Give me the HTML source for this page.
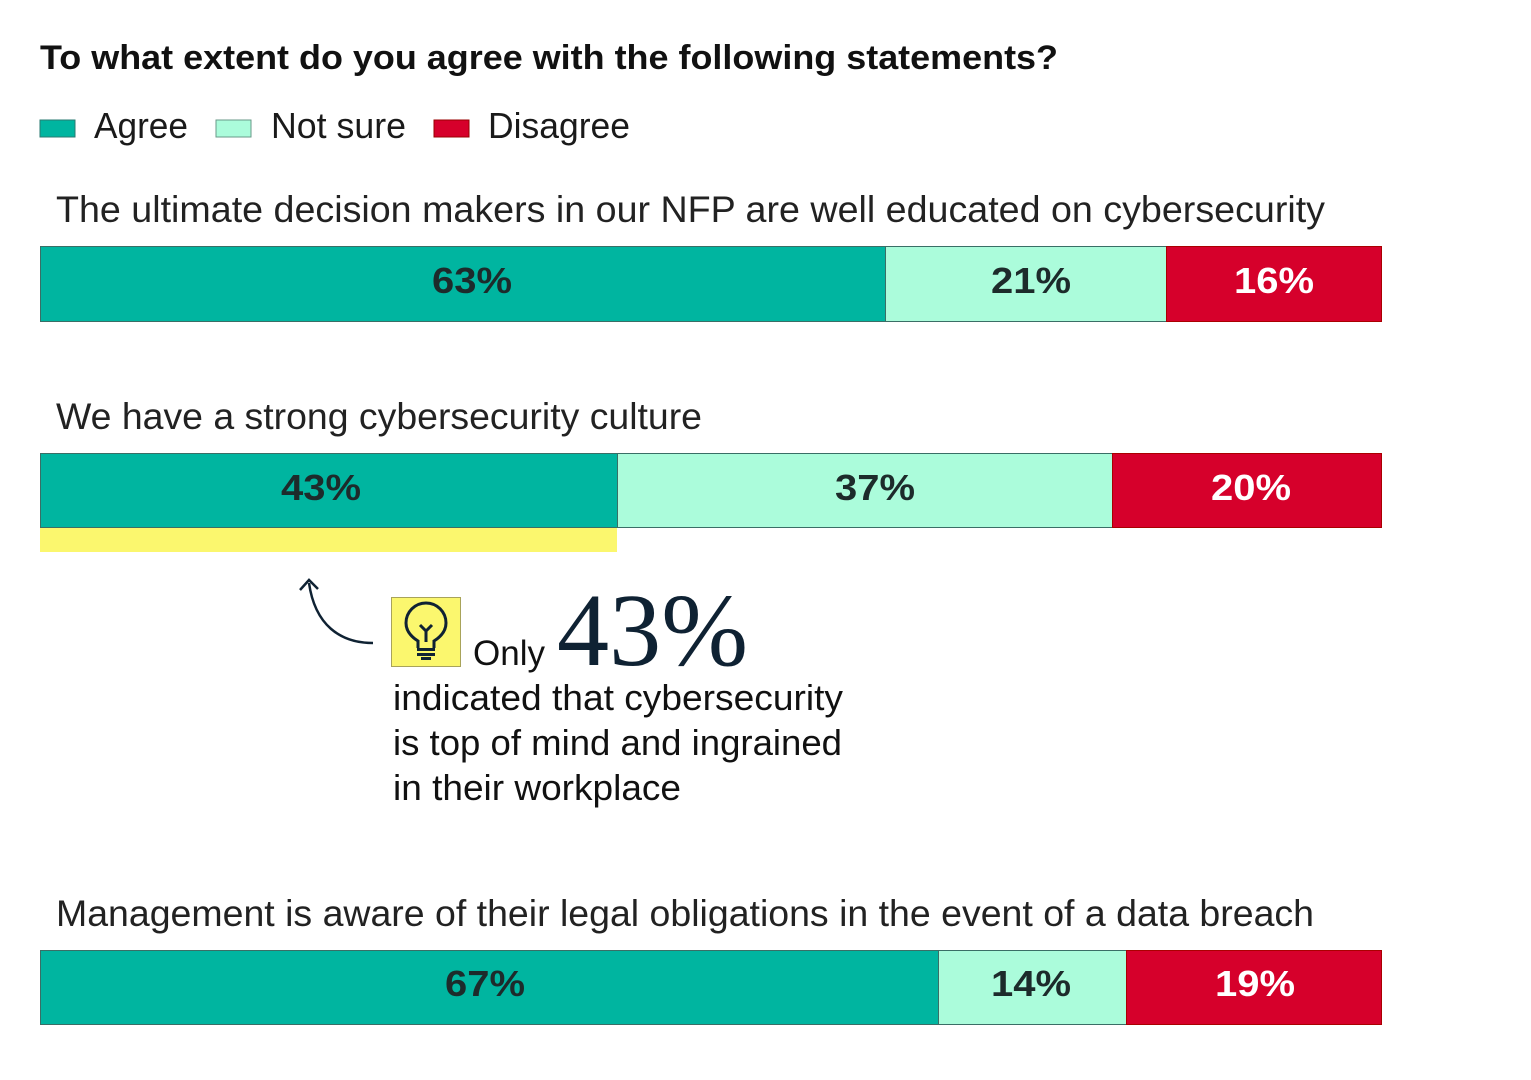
<!DOCTYPE html>
<html><head><meta charset="utf-8"><style>html,body{margin:0;padding:0;background:#fff;}svg{display:block}</style></head><body>
<svg width="1531" height="1080" viewBox="0 0 1531 1080" xmlns="http://www.w3.org/2000/svg" font-family="Liberation Sans, sans-serif">
<rect width="1531" height="1080" fill="#fff"/>
<text x="40" y="69" font-size="34" font-weight="bold" fill="#111" textLength="1018" lengthAdjust="spacingAndGlyphs">To what extent do you agree with the following statements?</text>
<rect x="40" y="120" width="35" height="17" fill="#00b5a0" stroke="#2a7a70"/>
<text x="94" y="138" font-size="36" fill="#1a1a1a" textLength="94" lengthAdjust="spacingAndGlyphs">Agree</text>
<rect x="216" y="120" width="35" height="17" fill="#abfcdb" stroke="#6a9a88"/>
<text x="271" y="138" font-size="36" fill="#1a1a1a" textLength="135" lengthAdjust="spacingAndGlyphs">Not sure</text>
<rect x="434" y="120" width="35" height="17" fill="#d6002b" stroke="#900"/>
<text x="488" y="138" font-size="36" fill="#1a1a1a" textLength="142" lengthAdjust="spacingAndGlyphs">Disagree</text>

<g font-size="37" fill="#222">
<text x="56" y="222" textLength="1269" lengthAdjust="spacingAndGlyphs">The ultimate decision makers in our NFP are well educated on cybersecurity</text>
<text x="56" y="429" textLength="646" lengthAdjust="spacingAndGlyphs">We have a strong cybersecurity culture</text>
<text x="56" y="926" textLength="1258" lengthAdjust="spacingAndGlyphs">Management is aware of their legal obligations in the event of a data breach</text>
</g>

<g stroke="#3a6e66" stroke-width="1">
<rect x="40.5" y="246.5" width="845" height="75" fill="#00b5a0"/>
<rect x="885.5" y="246.5" width="281" height="75" fill="#abfcdb"/>
<rect x="1166.5" y="246.5" width="215" height="75" fill="#d6002b" stroke="#a00"/>
<rect x="40.5" y="453.5" width="577" height="74" fill="#00b5a0"/>
<rect x="617.5" y="453.5" width="495" height="74" fill="#abfcdb"/>
<rect x="1112.5" y="453.5" width="269" height="74" fill="#d6002b" stroke="#a00"/>
<rect x="40.5" y="950.5" width="898" height="74" fill="#00b5a0"/>
<rect x="938.5" y="950.5" width="188" height="74" fill="#abfcdb"/>
<rect x="1126.5" y="950.5" width="255" height="74" fill="#d6002b" stroke="#a00"/>
</g>
<rect x="40" y="528" width="577" height="24" fill="#fbf76e"/>

<g font-size="36" font-weight="bold" text-anchor="middle">
<text x="472" y="293" fill="#1d2b2b" textLength="80" lengthAdjust="spacingAndGlyphs">63%</text>
<text x="1031" y="293" fill="#1d2b2b" textLength="80" lengthAdjust="spacingAndGlyphs">21%</text>
<text x="1274" y="293" fill="#fff" textLength="80" lengthAdjust="spacingAndGlyphs">16%</text>
<text x="321" y="500" fill="#1d2b2b" textLength="80" lengthAdjust="spacingAndGlyphs">43%</text>
<text x="875" y="500" fill="#1d2b2b" textLength="80" lengthAdjust="spacingAndGlyphs">37%</text>
<text x="1251" y="500" fill="#fff" textLength="80" lengthAdjust="spacingAndGlyphs">20%</text>
<text x="485" y="996" fill="#1d2b2b" textLength="80" lengthAdjust="spacingAndGlyphs">67%</text>
<text x="1031" y="996" fill="#1d2b2b" textLength="80" lengthAdjust="spacingAndGlyphs">14%</text>
<text x="1255" y="996" fill="#fff" textLength="80" lengthAdjust="spacingAndGlyphs">19%</text>
</g>

<path d="M373 643 C340 643 315 625 309 583" fill="none" stroke="#0f2233" stroke-width="2.5"/>
<path d="M300 590 L309 580 L318 589" fill="none" stroke="#0f2233" stroke-width="2.5"/>
<rect x="391.5" y="597.5" width="69" height="69" fill="#fbf76e" stroke="#a8a35a"/>
<g fill="none" stroke="#0f2233" stroke-width="3">
<path d="M418 648 L418 641 C410 636 406 630 406 623 A20 20 0 0 1 446 623 C446 630 442 636 434 641 L434 648"/>
<path d="M420 625 L426 631 L432 625 M426 631 L426 642"/>
</g>
<rect x="417" y="648" width="18" height="3" fill="#0f2233"/>
<rect x="417" y="653" width="18" height="3" fill="#0f2233"/>
<rect x="421" y="657" width="10" height="3" fill="#0f2233"/>

<text x="473" y="665" font-size="35" fill="#111" textLength="72" lengthAdjust="spacingAndGlyphs">Only</text>
<text x="557" y="665" font-size="104" font-family="Liberation Serif, serif" fill="#0f2233" textLength="191" lengthAdjust="spacingAndGlyphs">43%</text>
<g font-size="36" fill="#111">
<text x="393" y="710" textLength="450" lengthAdjust="spacingAndGlyphs">indicated that cybersecurity</text>
<text x="393" y="755" textLength="449" lengthAdjust="spacingAndGlyphs">is top of mind and ingrained</text>
<text x="393" y="800" textLength="288" lengthAdjust="spacingAndGlyphs">in their workplace</text>
</g>
</svg>
</body></html>
